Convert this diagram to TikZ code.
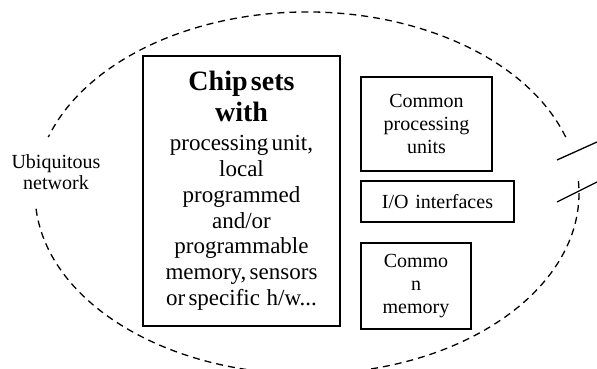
\documentclass[tikz,border=0pt]{standalone}
\usepackage{fontspec}
\setmainfont{Liberation Serif}
\begin{document}
\begin{tikzpicture}[x=1pt,y=1pt,
  box/.style={draw, line width=1.5pt, inner sep=0pt, align=center},
  smalltext/.style={font=\fontsize{20}{23}\selectfont},
  netline/.style={line width=1.3pt, dash pattern=on 7pt off 5pt},
  slash/.style={line width=1.3pt}
]
\useasboundingbox (0,0) rectangle (597,369);
\clip (0,0) rectangle (597,369);
% ubiquitous network boundary (dashed ellipse with gaps)
\draw[netline] (565.69,231.93) arc[start angle=18, end angle=162, x radius=272pt, y radius=181pt];
\draw[netline] (36.04,160.22) arc[start angle=185, end angle=364, x radius=272pt, y radius=181pt];
% boxes
\node[box, minimum width=197pt, minimum height=270pt, text width=197pt] (chip) at (241.5,178)
 {{\fontsize{28}{31}\selectfont\bfseries Chip sets\\with\par}\vspace{3pt}%
  {\fontsize{23}{25.8}\selectfont processing unit,\\local\\programmed\\and/or\\programmable\\memory, sensors\\or specific~ h/w...\par}};
\node[box, smalltext, minimum width=131pt, minimum height=94pt, text width=131pt] (cpu) at (426.5,245) {Common\\processing\\units};
\node[box, smalltext, minimum width=153pt, minimum height=41pt, text width=153pt] (io) at (437.5,167.5) {I/O interfaces};
\node[box, smalltext, minimum width=110pt, minimum height=86pt, text width=110pt] (mem) at (416,83) {Commo\\n\\memory};
\node[align=center, font=\fontsize{20}{21.5}\selectfont] (net) at (56,197) {Ubiquitous\\network};
% outgoing links
\coordinate (s1a) at (557,209); \coordinate (s1b) at (597,227);
\coordinate (s2a) at (557,167); \coordinate (s2b) at (597,187);
\draw[slash] (s1a) -- (s1b);
\draw[slash] (s2a) -- (s2b);
\end{tikzpicture}
\end{document}
